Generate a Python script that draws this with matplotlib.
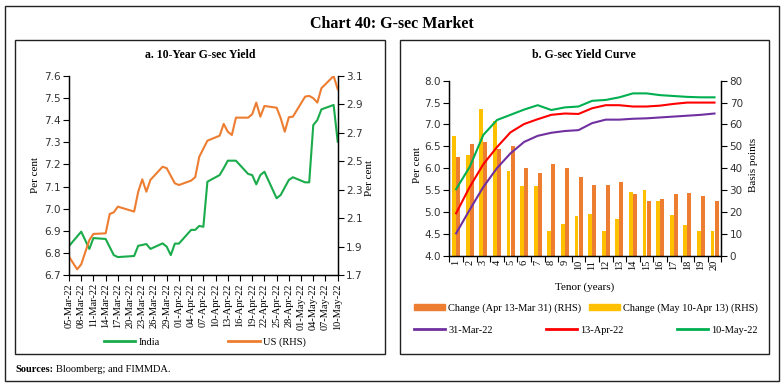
import matplotlib
matplotlib.use("Agg")
import matplotlib.pyplot as plt
from matplotlib.patches import Rectangle
from matplotlib.lines import Line2D
from matplotlib.patches import Patch
import pandas as pd
import numpy as np

# ---- panel a: 10-year G-sec yield ----
india_dates = ["2022-03-05", "2022-03-08", "2022-03-10", "2022-03-11", "2022-03-14",
               "2022-03-16", "2022-03-17", "2022-03-21", "2022-03-22", "2022-03-24",
               "2022-03-25", "2022-03-28", "2022-03-29", "2022-03-30", "2022-03-31",
               "2022-04-01", "2022-04-04", "2022-04-05", "2022-04-06", "2022-04-07",
               "2022-04-08", "2022-04-11", "2022-04-12", "2022-04-13", "2022-04-15",
               "2022-04-18", "2022-04-19", "2022-04-20", "2022-04-21", "2022-04-22",
               "2022-04-25", "2022-04-26", "2022-04-28", "2022-04-29", "2022-05-02",
               "2022-05-03", "2022-05-04", "2022-05-05", "2022-05-06", "2022-05-09",
               "2022-05-10"]
india_yield = [6.831, 6.896, 6.818, 6.867, 6.863, 6.790, 6.781, 6.786, 6.832, 6.840,
               6.818, 6.843, 6.828, 6.790, 6.842, 6.842, 6.904, 6.904, 6.922, 6.918,
               7.122, 7.152, 7.183, 7.217, 7.217, 7.157, 7.152, 7.110, 7.152, 7.167,
               7.047, 7.062, 7.130, 7.142, 7.119, 7.119, 7.378, 7.401, 7.449, 7.469,
               7.303]

us_dates = ["2022-03-05", "2022-03-07", "2022-03-08", "2022-03-10", "2022-03-11",
            "2022-03-14", "2022-03-15", "2022-03-16", "2022-03-17", "2022-03-21",
            "2022-03-22", "2022-03-23", "2022-03-24", "2022-03-25", "2022-03-28",
            "2022-03-29", "2022-03-31", "2022-04-01", "2022-04-04", "2022-04-05",
            "2022-04-06", "2022-04-08", "2022-04-11", "2022-04-12", "2022-04-13",
            "2022-04-14", "2022-04-15", "2022-04-18", "2022-04-19", "2022-04-20",
            "2022-04-21", "2022-04-22", "2022-04-25", "2022-04-26", "2022-04-27",
            "2022-04-28", "2022-04-29", "2022-05-02", "2022-05-03", "2022-05-04",
            "2022-05-05", "2022-05-06", "2022-05-09", "2022-05-10"]
us_yield = [1.829, 1.740, 1.775, 1.946, 1.989, 1.993, 2.129, 2.141, 2.181, 2.146,
            2.286, 2.373, 2.286, 2.369, 2.462, 2.451, 2.345, 2.333, 2.364, 2.388,
            2.532, 2.645, 2.680, 2.763, 2.708, 2.685, 2.807, 2.807, 2.831, 2.913,
            2.814, 2.889, 2.877, 2.803, 2.708, 2.810, 2.814, 2.955, 2.960, 2.944,
            2.913, 3.014, 3.100, 3.007]

# ---- panel b: G-sec yield curve ----
tenor = list(range(1, 21))
curve_mar31 = [4.51, 5.05, 5.57, 6.00, 6.34, 6.60, 6.74, 6.81, 6.85, 6.87,
               7.03, 7.11, 7.11, 7.13, 7.14, 7.16, 7.18, 7.20, 7.22, 7.25]
curve_apr13 = [4.97, 5.57, 6.09, 6.48, 6.82, 7.01, 7.12, 7.22, 7.25, 7.24,
               7.37, 7.44, 7.44, 7.41, 7.41, 7.43, 7.47, 7.50, 7.50, 7.50]
curve_may10 = [5.52, 6.03, 6.76, 7.10, 7.22, 7.34, 7.44, 7.33, 7.39, 7.41,
               7.54, 7.56, 7.62, 7.71, 7.71, 7.67, 7.65, 7.63, 7.62, 7.62]
chg_apr13_mar31 = [45, 51, 52, 49, 50, 40, 38, 42, 40, 36,
                   32.5, 32.5, 33.5, 28, 25, 26, 28, 28.5, 27.5, 25]
chg_may10_apr13 = [54.5, 46, 67, 61.5, 38.5, 32, 32, 11.5, 14.5, 18,
                   19, 11.5, 17, 29, 30, 25, 18.5, 14, 11.5, 11.5]

SERIF = "Liberation Serif"
SANS = "DejaVu Sans"
plt.rcParams["font.family"] = [SERIF, "DejaVu Serif"]

W, H = 784, 388
fig = plt.figure(figsize=(W / 100, H / 100), dpi=100)


def rect(x0, y0, x1, y1):
    return [x0 / W, 1 - y1 / H, (x1 - x0) / W, (y1 - y0) / H]


def frame(x0, y0, x1, y1, lw=1.0):
    fig.patches.append(Rectangle((x0 / W, 1 - y1 / H), (x1 - x0) / W, (y1 - y0) / H,
                                 transform=fig.transFigure, fill=False,
                                 lw=lw, ec="#222222"))


def ftext(x, y, s, **kw):
    fig.text(x / W, 1 - y / H, s, **kw)


frame(5, 6, 779, 381)
frame(15, 40, 385, 354)
frame(400, 40, 768.5, 354)

ftext(392, 24, "Chart 40: G-sec Market", ha="center", va="center",
      fontsize=11.5, fontweight="bold")
ftext(200, 55, "a. 10-Year G-sec Yield", ha="center", va="center",
      fontsize=8.5, fontweight="bold")
ftext(584, 55, "b. G-sec Yield Curve", ha="center", va="center",
      fontsize=8.5, fontweight="bold")
ftext(15, 369, "Sources:", ha="left", va="center", fontsize=7.5, fontweight="bold")
ftext(56, 369, "Bloomberg; and FIMMDA.", ha="left", va="center", fontsize=7.5)

GREEN = "#1aab4b"
ORANGE = "#ed7d31"
YELLOW = "#ffc000"
PURPLE = "#7030a0"
RED = "#ff0000"
GREEN_B = "#00b050"


def style_spines(ax):
    ax.spines["top"].set_visible(False)
    for s in ("left", "right", "bottom"):
        ax.spines[s].set_linewidth(0.9)


def style_numbers(labels):
    for lab in labels:
        lab.set_fontsize(7.5)
        lab.set_family(SANS)
        lab.set_color("#333333")


# ---------------- panel a ----------------
ax = fig.add_axes(rect(69, 76, 337.7, 275))
ax2 = ax.twinx()
ax.plot(pd.to_datetime(india_dates), india_yield, color=GREEN, lw=1.5)
ax2.plot(pd.to_datetime(us_dates), us_yield, color=ORANGE, lw=1.5)

ax.set_xlim(pd.Timestamp("2022-03-05"), pd.Timestamp("2022-05-10"))
ax.set_ylim(6.7, 7.6)
ax.set_yticks(np.arange(6.7, 7.61, 0.1))
ax2.set_ylim(1.7, 3.1)
ax2.set_yticks(np.arange(1.7, 3.11, 0.2))
ax.yaxis.set_major_formatter(plt.FormatStrFormatter("%.1f"))
ax2.yaxis.set_major_formatter(plt.FormatStrFormatter("%.1f"))
ticks = pd.date_range("2022-03-05", "2022-05-10", freq="3D")
ax.set_xticks(ticks)
ax.set_xticklabels([d.strftime("%d-%b-%y") for d in ticks], rotation=90,
                   fontsize=7.5)
for a in (ax, ax2):
    style_spines(a)
    a.tick_params(axis="both", length=4, width=0.8, pad=2, direction="out")
style_numbers(ax.get_yticklabels() + ax2.get_yticklabels())

ftext(36, 175, "Per cent", rotation=90, ha="center", va="center", fontsize=8)
ftext(370, 178, "Per cent", rotation=90, ha="center", va="center", fontsize=8)

leg_a = [Line2D([], [], color=GREEN, lw=2), Line2D([], [], color=ORANGE, lw=2)]
fig.legend(leg_a, ["India", "US (RHS)"], loc="center left",
           bbox_to_anchor=(104 / W, 1 - 342 / H), ncol=2, frameon=False,
           fontsize=7.5, handlelength=3, handletextpad=0.3, columnspacing=6.6,
           borderpad=0, borderaxespad=0)

# ---------------- panel b ----------------
bx = fig.add_axes(rect(449.3, 80.7, 721.3, 255.7))
bx2 = bx.twinx()
t = np.array(tenor)
bx.bar(t - 0.15, chg_may10_apr13, width=0.28, color=YELLOW)
bx.bar(t + 0.15, chg_apr13_mar31, width=0.3, color=ORANGE)
bx.set_ylim(0, 80)
bx.set_yticks(range(0, 81, 10))
bx.set_xlim(0.5, 20.5)

bx2.plot(t, curve_mar31, color=PURPLE, lw=1.5)
bx2.plot(t, curve_apr13, color=RED, lw=1.5)
bx2.plot(t, curve_may10, color=GREEN_B, lw=1.5)
bx2.set_ylim(4.0, 8.0)
bx2.set_yticks(np.arange(4.0, 8.01, 0.5))
bx2.yaxis.set_major_formatter(plt.FormatStrFormatter("%.1f"))

# bars use the right-hand scale, curves the left-hand one
bx.yaxis.tick_right()
bx2.yaxis.tick_left()

bx.set_xticks(t)
bx.set_xticklabels([str(v) for v in tenor], rotation=90, fontsize=7.5)
bx.set_xticks(np.arange(0.5, 20.6, 1), minor=True)
bx.tick_params(axis="x", which="major", length=0, pad=3)
bx.tick_params(axis="x", which="minor", length=4, width=0.8, direction="out")
for a in (bx, bx2):
    style_spines(a)
    a.tick_params(axis="y", length=4, width=0.8, pad=2, direction="out")
style_numbers(bx.get_yticklabels() + bx2.get_yticklabels())

ftext(585, 287, "Tenor (years)", ha="center", va="center", fontsize=8)
ftext(417, 165, "Per cent", rotation=90, ha="center", va="center", fontsize=8)
ftext(754, 165, "Basis points", rotation=90, ha="center", va="center", fontsize=8)

leg_b1 = [Patch(color=ORANGE), Patch(color=YELLOW)]
fig.legend(leg_b1, ["Change (Apr 13-Mar 31) (RHS)", "Change (May 10-Apr 13) (RHS)"],
           loc="center left", bbox_to_anchor=(414 / W, 1 - 308 / H), ncol=2,
           frameon=False, fontsize=7.5, handlelength=3, handleheight=0.6,
           handletextpad=0.3, columnspacing=0.7, borderpad=0, borderaxespad=0)
leg_b2 = [Line2D([], [], color=PURPLE, lw=2), Line2D([], [], color=RED, lw=2),
          Line2D([], [], color=GREEN_B, lw=2)]
fig.legend(leg_b2, ["31-Mar-22", "13-Apr-22", "10-May-22"],
           loc="center left", bbox_to_anchor=(414 / W, 1 - 330 / H), ncol=3,
           frameon=False, fontsize=7.5, handlelength=3, handletextpad=0.3,
           columnspacing=5.1, borderpad=0, borderaxespad=0)

fig.savefig("out.png", dpi=100)
